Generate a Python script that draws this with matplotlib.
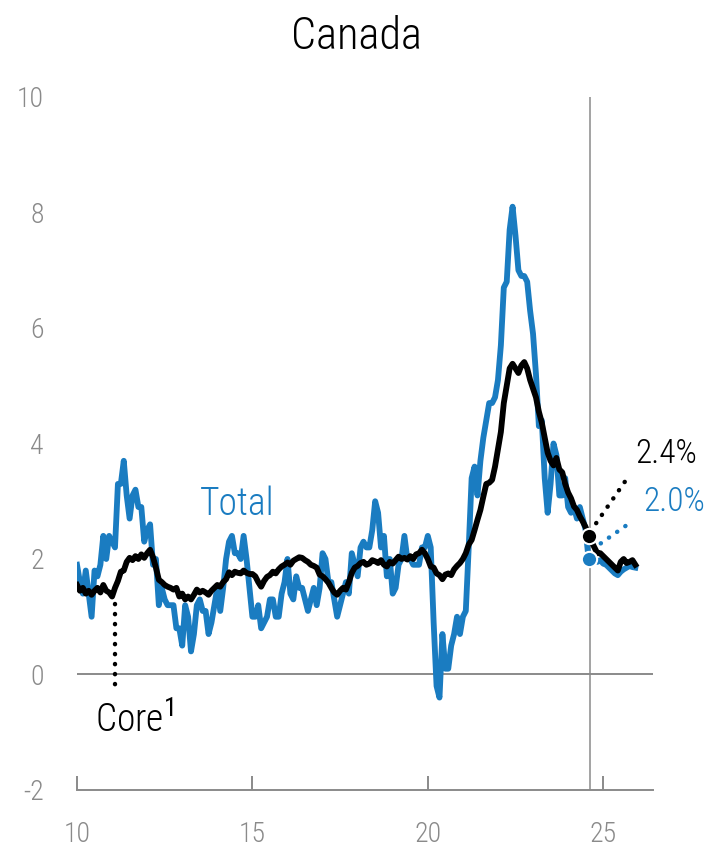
import matplotlib
matplotlib.use("Agg")
import matplotlib.pyplot as plt
from matplotlib import font_manager as fm
import numpy as np

# ---------------- data ----------------
start_year = 10  # Jan 2010
total_hist = [
    1.9, 1.6, 1.4, 1.8, 1.4, 1.0, 1.8, 1.7, 1.9, 2.4, 2.0, 2.4,   # 2010
    2.3, 2.2, 3.3, 3.3, 3.7, 3.1, 2.7, 3.1, 3.2, 2.9, 2.9, 2.3,   # 2011
    2.5, 2.6, 1.9, 2.0, 1.2, 1.5, 1.3, 1.2, 1.2, 1.2, 0.8, 0.8,   # 2012
    0.5, 1.2, 1.0, 0.4, 0.7, 1.2, 1.3, 1.1, 1.1, 0.7, 0.9, 1.2,   # 2013
    1.5, 1.1, 1.5, 2.0, 2.3, 2.4, 2.1, 2.1, 2.0, 2.4, 2.0, 1.5,   # 2014
    1.0, 1.0, 1.2, 0.8, 0.9, 1.0, 1.3, 1.3, 1.0, 1.0, 1.4, 1.6,   # 2015
    2.0, 1.4, 1.3, 1.7, 1.5, 1.5, 1.3, 1.1, 1.3, 1.5, 1.2, 1.5,   # 2016
    2.1, 2.0, 1.6, 1.6, 1.3, 1.0, 1.2, 1.4, 1.6, 1.4, 2.1, 1.9,   # 2017
    1.7, 2.2, 2.3, 2.2, 2.2, 2.5, 3.0, 2.8, 2.2, 2.4, 1.7, 2.0,   # 2018
    1.4, 1.5, 1.9, 2.0, 2.4, 2.0, 2.0, 1.9, 1.9, 1.9, 2.2, 2.2,   # 2019
    2.4, 2.2, 0.9, -0.2, -0.4, 0.7, 0.1, 0.1, 0.5, 0.7, 1.0, 0.7, # 2020
    1.0, 1.1, 2.2, 3.4, 3.6, 3.1, 3.7, 4.1, 4.4, 4.7, 4.7, 4.8,   # 2021
    5.1, 5.7, 6.7, 6.8, 7.7, 8.1, 7.6, 7.0, 6.9, 6.9, 6.8, 6.3,   # 2022
    5.9, 5.2, 4.3, 4.4, 3.4, 2.8, 3.3, 4.0, 3.8, 3.1, 3.1, 3.4,   # 2023
    2.9, 2.8, 2.9, 2.7, 2.9, 2.7, 2.5, 2.0,                       # 2024 (to Aug)
]
core_hist = [
    1.55, 1.45, 1.5, 1.4, 1.45, 1.38, 1.45, 1.5, 1.42, 1.55, 1.45, 1.42,  # 2010
    1.35, 1.5, 1.62, 1.78, 1.8, 1.95, 2.02, 1.98, 2.05, 2.0, 2.08, 2.02,  # 2011
    2.1, 2.16, 2.03, 1.85, 1.64, 1.6, 1.55, 1.52, 1.5, 1.47, 1.5, 1.35,   # 2012
    1.4, 1.3, 1.35, 1.3, 1.38, 1.47, 1.42, 1.45, 1.42, 1.38, 1.45, 1.5,   # 2013
    1.55, 1.52, 1.6, 1.65, 1.77, 1.72, 1.78, 1.76, 1.75, 1.8, 1.76, 1.74, # 2014
    1.74, 1.7, 1.6, 1.52, 1.62, 1.69, 1.72, 1.78, 1.75, 1.82, 1.87, 1.9,  # 2015
    1.94, 1.9, 1.97, 2.0, 2.03, 2.02, 1.98, 1.95, 1.9, 1.88, 1.85, 1.73,  # 2016
    1.7, 1.65, 1.59, 1.5, 1.42, 1.38, 1.45, 1.5, 1.47, 1.6, 1.76, 1.85,   # 2017
    1.88, 1.93, 1.95, 1.9, 1.92, 1.98, 1.96, 1.93, 1.98, 1.9, 1.87, 1.95, # 2018
    1.92, 1.98, 2.04, 2.0, 2.02, 1.99, 2.05, 2.0, 2.08, 2.1, 2.16, 2.1,   # 2019
    2.0, 1.87, 1.85, 1.75, 1.72, 1.65, 1.73, 1.75, 1.72, 1.82, 1.88, 1.93, # 2020
    2.0, 2.1, 2.25, 2.33, 2.5, 2.68, 2.85, 3.08, 3.3, 3.32, 3.37, 3.6,    # 2021
    3.9, 4.2, 4.7, 5.0, 5.3, 5.38, 5.3, 5.22, 5.35, 5.41, 5.3, 5.1,       # 2022
    4.95, 4.8, 4.55, 4.36, 4.1, 3.84, 3.7, 3.62, 3.75, 3.55, 3.5, 3.3,    # 2023
    3.15, 3.05, 2.91, 2.85, 2.74, 2.65, 2.55, 2.4,                        # 2024 (to Aug)
]
# projection Sep 2024 - Dec 2025
total_proj = [2.0, 2.0, 1.95, 1.98, 1.92, 1.9, 1.85, 1.8, 1.75, 1.72, 1.78, 1.82, 1.85, 1.88, 1.86, 1.85]
core_proj = [2.3, 2.2, 2.1, 2.1, 2.05, 2.0, 1.95, 1.9, 1.85, 1.8, 1.95, 2.0, 1.93, 1.95, 1.98, 1.9]

latest_total = 2.0
latest_core = 2.4
latest_label_total = "2.0%"
latest_label_core = "2.4%"
x_ticks = [10, 15, 20, 25]
y_ticks = [-2, 0, 2, 4, 6, 8, 10]

# ---------------- style ----------------
avail = {f.name for f in fm.fontManager.ttflist}
font = "DejaVu Sans"
for cand in ["Liberation Sans Narrow", "Roboto Condensed", "Open Sans Condensed", "Open Sans", "Lato"]:
    if cand in avail:
        font = cand
        break
plt.rcParams["font.family"] = [font, "DejaVu Sans"]
plt.rcParams["mathtext.fontset"] = "custom"
plt.rcParams["mathtext.rm"] = font
plt.rcParams["mathtext.it"] = font
plt.rcParams["mathtext.bf"] = font

BLUE = "#1a7cc1"
GRAY = "#8a8a8a"
WEIGHT = "light"

n_hist = len(total_hist)
x_hist = start_year + np.arange(n_hist) / 12.0
x_proj = start_year + np.arange(n_hist - 1, n_hist + len(total_proj)) / 12.0
x_latest = x_hist[-1]

fig = plt.figure(figsize=(7.25, 8.5), dpi=100)
ax = fig.add_axes([0.1062, 0.0706, 0.7945, 0.8153])
ax.set_xlim(10, 26.42)
ax.set_ylim(-2, 10)

for s in ["top", "right", "left"]:
    ax.spines[s].set_visible(False)
ax.spines["bottom"].set_color(GRAY)
ax.spines["bottom"].set_linewidth(1.4)

ax.axhline(0, color=GRAY, lw=1.4, zorder=1)
ax.axvline(24.62, color=GRAY, lw=1.1, zorder=1)

lw = 4.2
ax.plot(x_hist, total_hist, color=BLUE, lw=lw, solid_joinstyle="round", zorder=3)
ax.plot(x_proj, [total_hist[-1]] + total_proj, color=BLUE, lw=lw, solid_joinstyle="round", zorder=3)
ax.plot(x_hist, core_hist, color="black", lw=lw, solid_joinstyle="round", zorder=4)
ax.plot(x_proj, [core_hist[-1]] + core_proj, color="black", lw=lw, solid_joinstyle="round", zorder=4)

ax.plot([x_latest], [latest_total], "o", color=BLUE, ms=11, mec="white", mew=1.5, zorder=6)
ax.plot([x_latest], [latest_core], "o", color="black", ms=11, mec="white", mew=1.5, zorder=7)

# leader lines (dotted)
dot_ls = (0, (0.05, 2.2))
ax.plot([24.8, 25.62], [2.62, 3.34], color="black", lw=3.2, ls=dot_ls,
        dash_capstyle="round", zorder=5)
ax.plot([24.93, 25.82], [2.27, 2.65], color=BLUE, lw=3.2, ls=dot_ls,
        dash_capstyle="round", zorder=5)
ax.plot([11.08, 11.08], [1.22, -0.31], color="black", lw=3.2, ls=dot_ls,
        dash_capstyle="round", zorder=5)

ax.text(25.9, 3.81, latest_label_core, color="black", fontsize=24, ha="left", va="center", weight=WEIGHT)
ax.text(26.13, 2.99, latest_label_total, color=BLUE, fontsize=24, ha="left", va="center", weight=WEIGHT)
ax.text(14.56, 2.94, "Total", color=BLUE, fontsize=27, ha="center", va="center", weight=WEIGHT)
ax.text(11.65, -0.81, r"Core$^{\mathrm{1}}$", color="black", fontsize=27, ha="center", va="center", weight=WEIGHT)

ax.set_xticks(x_ticks)
ax.set_xticklabels([str(t) for t in x_ticks])
ax.set_yticks(y_ticks)
ax.set_yticklabels([str(t) for t in y_ticks])
ax.tick_params(axis="x", direction="in", length=10, width=1.4, color=GRAY,
               labelsize=20, labelcolor=GRAY, pad=22)
ax.tick_params(axis="y", length=0, labelsize=20, labelcolor=GRAY, pad=24)
for lab in ax.get_xticklabels() + ax.get_yticklabels():
    lab.set_fontweight(WEIGHT)

fig.text(0.491, 0.957, "Canada", ha="center", va="center", fontsize=32, color="black", weight=WEIGHT)

fig.savefig("out.png", dpi=100)
